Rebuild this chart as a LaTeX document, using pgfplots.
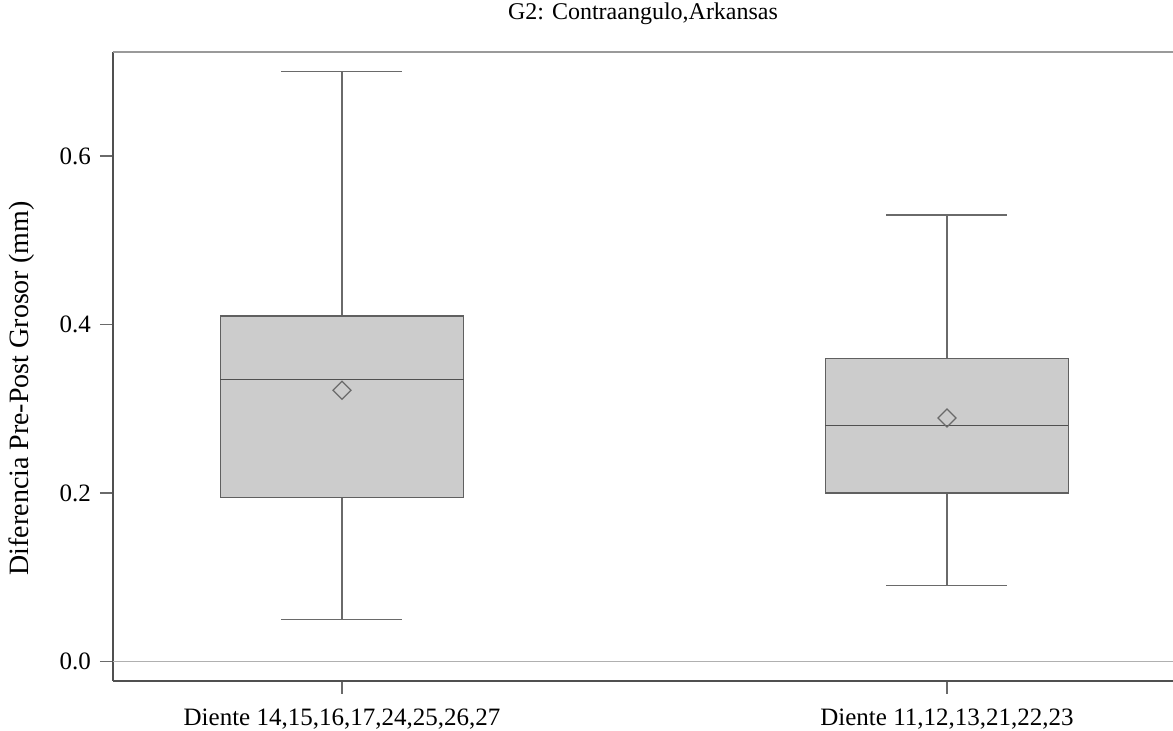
\documentclass[border=0pt]{standalone}
\usepackage{pgfplots}
\pgfplotsset{compat=1.18}
\usepackage{fontspec}
\setmainfont{Liberation Serif}
\definecolor{boxfill}{HTML}{CCCCCC}
\definecolor{boxedge}{HTML}{606060}
\definecolor{whisk}{HTML}{6A6A6A}
\definecolor{axdark}{HTML}{505050}
\definecolor{axtop}{HTML}{9A9A9A}
\definecolor{zeroln}{HTML}{B0B0B0}
\begin{document}
\begin{tikzpicture}
\begin{axis}[
  at={(0,0)}, anchor=south west,
  scale only axis, width=530pt, height=314.5pt,
  xmin=0.6215, xmax=2.3736, ymin=-0.0231, ymax=0.7234,
  axis x line*=bottom, axis y line*=left,
  axis line style={-, draw=axdark, line width=0.6pt},
  xtick={1,2},
  xticklabels={{Diente 14,15,16,17,24,25,26,27}, {Diente 11,12,13,21,22,23}},
  ytick={0,0.2,0.4,0.6},
  extra y ticks={0}, extra y tick labels={},
  extra y tick style={grid=major, major grid style={draw=zeroln, line width=0.6pt}, major tick length=0pt},
  tick align=outside, major tick length=6.5pt,
  tick style={draw=whisk, line width=0.6pt},
  yticklabel style={/pgf/number format/fixed, /pgf/number format/fixed zerofill, /pgf/number format/precision=1, /pgf/number format/assume math mode=true, xshift=-1pt},
  tick label style={font=\fontsize{12.5}{15}\selectfont},
  xticklabel style={yshift=-4pt},
  ylabel={Diferencia Pre-Post Grosor (mm)},
  ylabel style={at={([xshift=-45.5pt, yshift=-11pt]axis description cs:0,0.5)}, anchor=center, font=\fontsize{14}{16}\selectfont},
  title={G2: Contraangulo,Arkansas},
  title style={at={(axis description cs:0.5,1)}, anchor=base, yshift=10pt, font=\fontsize{12}{14}\selectfont},
]
% Group 1: whiskers 0.05 / 0.70, quartiles 0.195 / 0.41, median 0.335
\addplot[draw=whisk, line width=0.6pt] coordinates {(1,0.41) (1,0.70)};
\addplot[draw=whisk, line width=0.6pt] coordinates {(1,0.05) (1,0.195)};
\addplot[draw=whisk, line width=0.6pt] coordinates {(0.9,0.70) (1.1,0.70)};
\addplot[draw=whisk, line width=0.6pt] coordinates {(0.9,0.05) (1.1,0.05)};
\addplot[fill=boxfill, draw=boxedge, line width=0.6pt] coordinates {(0.79915,0.195) (1.20085,0.195) (1.20085,0.41) (0.79915,0.41)} --cycle;
\addplot[draw=axdark, line width=0.7pt] coordinates {(0.79915,0.335) (1.20085,0.335)};
% Group 2: whiskers 0.09 / 0.53, quartiles 0.20 / 0.36, median 0.28
\addplot[draw=whisk, line width=0.6pt] coordinates {(2,0.36) (2,0.53)};
\addplot[draw=whisk, line width=0.6pt] coordinates {(2,0.09) (2,0.20)};
\addplot[draw=whisk, line width=0.6pt] coordinates {(1.9,0.53) (2.1,0.53)};
\addplot[draw=whisk, line width=0.6pt] coordinates {(1.9,0.09) (2.1,0.09)};
\addplot[fill=boxfill, draw=boxedge, line width=0.6pt] coordinates {(1.79915,0.20) (2.20085,0.20) (2.20085,0.36) (1.79915,0.36)} --cycle;
\addplot[draw=axdark, line width=0.7pt] coordinates {(1.79915,0.28) (2.20085,0.28)};
% means
\addplot[only marks, mark=square, mark size=3.18pt, mark options={rotate=45, draw=whisk, fill=none, line width=0.6pt}] coordinates {(1,0.322) (2,0.289)};
\draw[draw=axtop, line width=0.6pt] (rel axis cs:0,1) -- (rel axis cs:1,1);
\end{axis}
\pgfresetboundingbox
\useasboundingbox (-56.5pt,-25pt) rectangle (530pt,340.5pt);
\end{tikzpicture}
\end{document}
